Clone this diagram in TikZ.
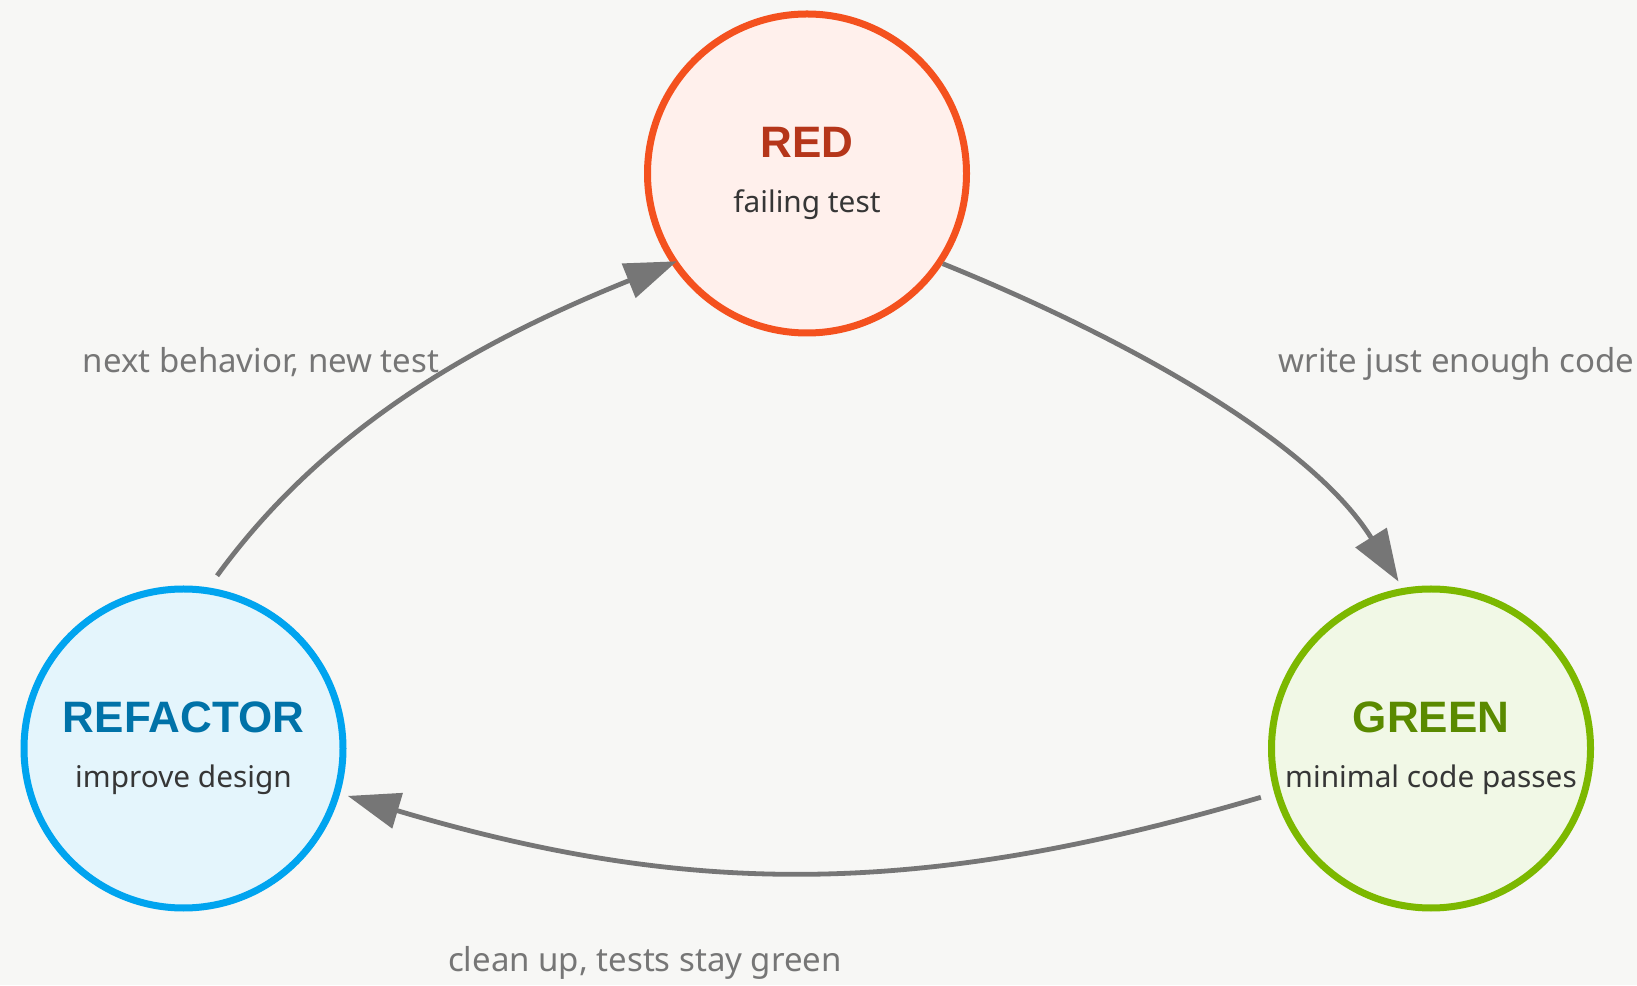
\documentclass[tikz,border=0pt]{standalone}
\usepackage{fontspec}
\setmainfont{Noto Sans}
\newfontfamily\titlefont{Liberation Sans}
\usetikzlibrary{arrows.meta,calc}
\definecolor{bg}{HTML}{F7F7F5}
\definecolor{redstroke}{HTML}{F4511E}
\definecolor{redfill}{HTML}{FFF0EC}
\definecolor{redtext}{HTML}{B5361A}
\definecolor{greenstroke}{HTML}{7CB800}
\definecolor{greenfill}{HTML}{F1F8E6}
\definecolor{greentext}{HTML}{5A8A00}
\definecolor{bluestroke}{HTML}{00A4EF}
\definecolor{bluefill}{HTML}{E4F5FC}
\definecolor{bluetext}{HTML}{0072A8}
\definecolor{subtext}{HTML}{363636}
\definecolor{edgecol}{HTML}{767676}
\tikzset{
  phase/.style={circle, minimum size=319pt, inner sep=0pt, line width=7pt},
  title/.style={anchor=base, inner sep=0pt, font=\titlefont\bfseries\fontsize{44}{48}\selectfont},
  sub/.style={anchor=base, inner sep=0pt, text=subtext, font=\fontsize{29.8}{33}\selectfont},
  elabel/.style={anchor=base, inner sep=0pt, text=edgecol, font=\fontsize{33}{36}\selectfont},
  flow/.style={draw=edgecol, line width=4.8pt, -{Triangle[length=52pt,width=36pt]}}
}
\begin{document}
\begin{tikzpicture}[x=1pt,y=1pt]
\fill[bg] (0,0) rectangle (1637,985);
\useasboundingbox (0,0) rectangle (1637,985);
\node[phase, draw=redstroke, fill=redfill] (red) at (807,811.5) {};
\node[phase, draw=greenstroke, fill=greenfill] (green) at (1431,236.5) {};
\node[phase, draw=bluestroke, fill=bluefill] (refactor) at (183.5,236.5) {};
\node[title, text=redtext] (redt) at ($(red)+(0,16)$) {RED};
\node[sub] (reds) at ($(red)+(0,-39.5)$) {failing test};
\node[title, text=greentext] (greent) at ($(green)+(0,15.5)$) {GREEN};
\node[sub] (greens) at ($(green)+(0,-39.5)$) {minimal code passes};
\node[title, text=bluetext] (reft) at ($(refactor)+(0,15.5)$) {REFACTOR};
\node[sub] (refs) at ($(refactor)+(0,-39.5)$) {improve design};
\draw[flow] ($(red)+(-33.6:163)$) to[out=-22, in=122, looseness=0.8] ($(green)+(101:170)$);
\draw[flow] ($(green)+(196:177)$) to[bend left=16.5] ($(refactor)+(-16.1:171)$);
\draw[flow] ($(refactor)+(79:176)$) to[out=54, in=202, looseness=0.9] ($(red)+(214:157)$);
\node[elabel] (l1) at (261,612) {next behavior, new test};
\node[elabel] (l2) at (1456.5,612) {write just enough code};
\node[elabel] (l3) at (645,14) {clean up, tests stay green};
\end{tikzpicture}
\end{document}
